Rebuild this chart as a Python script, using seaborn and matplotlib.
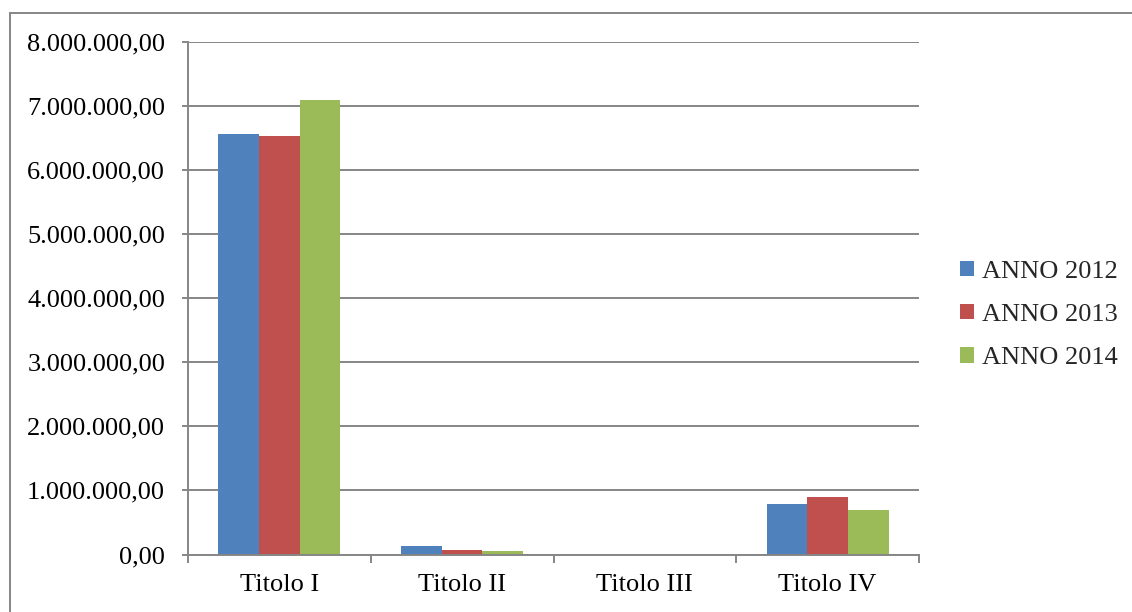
import matplotlib
matplotlib.use("Agg")
import matplotlib.pyplot as plt
from matplotlib.ticker import FuncFormatter, MultipleLocator
from matplotlib.lines import Line2D
import pandas as pd
import seaborn as sns

# Data
categories = ["Titolo I", "Titolo II", "Titolo III", "Titolo IV"]
series_names = ["ANNO 2012", "ANNO 2013", "ANNO 2014"]
anno_2012 = [6570000, 130000, 0, 790000]
anno_2013 = [6530000, 73000, 0, 905000]
anno_2014 = [7100000, 47000, 0, 690000]
colors = ["#4F81BD", "#C0504D", "#9BBB59"]

rows = []
for name, vals in zip(series_names, [anno_2012, anno_2013, anno_2014]):
    for cat, v in zip(categories, vals):
        rows.append({"Titolo": cat, "Anno": name, "Valore": v})
df = pd.DataFrame(rows)

sns.set_theme(style="white")
plt.rcParams["font.family"] = ["Liberation Serif", "DejaVu Serif"]
FS = 19
grey = "#868686"

fig = plt.figure(figsize=(11.32, 6.12), dpi=100)
ax = fig.add_axes([188 / 1132, 57.5 / 612, 731 / 1132, 512.5 / 612])

sns.barplot(data=df, x="Titolo", y="Valore", hue="Anno", order=categories,
            hue_order=series_names, palette=colors, width=0.667, gap=0,
            saturation=1, edgecolor="none", ax=ax, legend=True)

ax.set_ylim(0, 8000000)
ax.set_xlim(-0.5, 3.5)
ax.yaxis.set_major_locator(MultipleLocator(1000000))


def it_fmt(v, pos):
    s = f"{v:,.2f}"
    return s.replace(",", "X").replace(".", ",").replace("X", ".")


ax.yaxis.set_major_formatter(FuncFormatter(it_fmt))
ax.set_xlabel("")
ax.set_ylabel("")

# Gridlines
ax.yaxis.grid(True, color=grey, linewidth=1.4)
ax.set_axisbelow(True)

for side in ["top", "right"]:
    ax.spines[side].set_visible(False)
for side in ["left", "bottom"]:
    ax.spines[side].set_color(grey)
    ax.spines[side].set_linewidth(1.4)

# Y ticks pointing left
ax.tick_params(axis="y", which="major", direction="out", length=4.5, width=1.4,
               color=grey, left=True, pad=12, labelsize=FS, labelcolor="black")
# X ticks at category boundaries, labels centred on categories
ax.set_xticks(range(len(categories)))
ax.set_xticklabels(categories)
ax.tick_params(axis="x", which="major", length=0, pad=14, labelsize=FS,
               labelcolor="black")
ax.set_xticks([-0.5, 0.5, 1.5, 2.5, 3.5], minor=True)
ax.tick_params(axis="x", which="minor", direction="out", length=5.5, width=1.4,
               color=grey, bottom=True)

# Legend on the right
handles, labels = ax.get_legend_handles_labels()
ax.get_legend().remove()
fig.legend(handles, labels, loc="center left",
           bbox_to_anchor=(960 / 1132, (612 - 315) / 612),
           bbox_transform=fig.transFigure, frameon=False, fontsize=FS,
           handlelength=0.53, handleheight=0.53, handletextpad=0.3,
           labelspacing=0.8, borderpad=0, borderaxespad=0)

# Outer frame lines
fig.add_artist(Line2D([9.5 / 1132, 9.5 / 1132], [0, 1 - 13 / 612],
                      transform=fig.transFigure, color=grey, linewidth=1.4))
fig.add_artist(Line2D([9.5 / 1132, 1], [1 - 13 / 612, 1 - 13 / 612],
                      transform=fig.transFigure, color=grey, linewidth=1.4))

fig.savefig("out.png", dpi=100, facecolor="white")
